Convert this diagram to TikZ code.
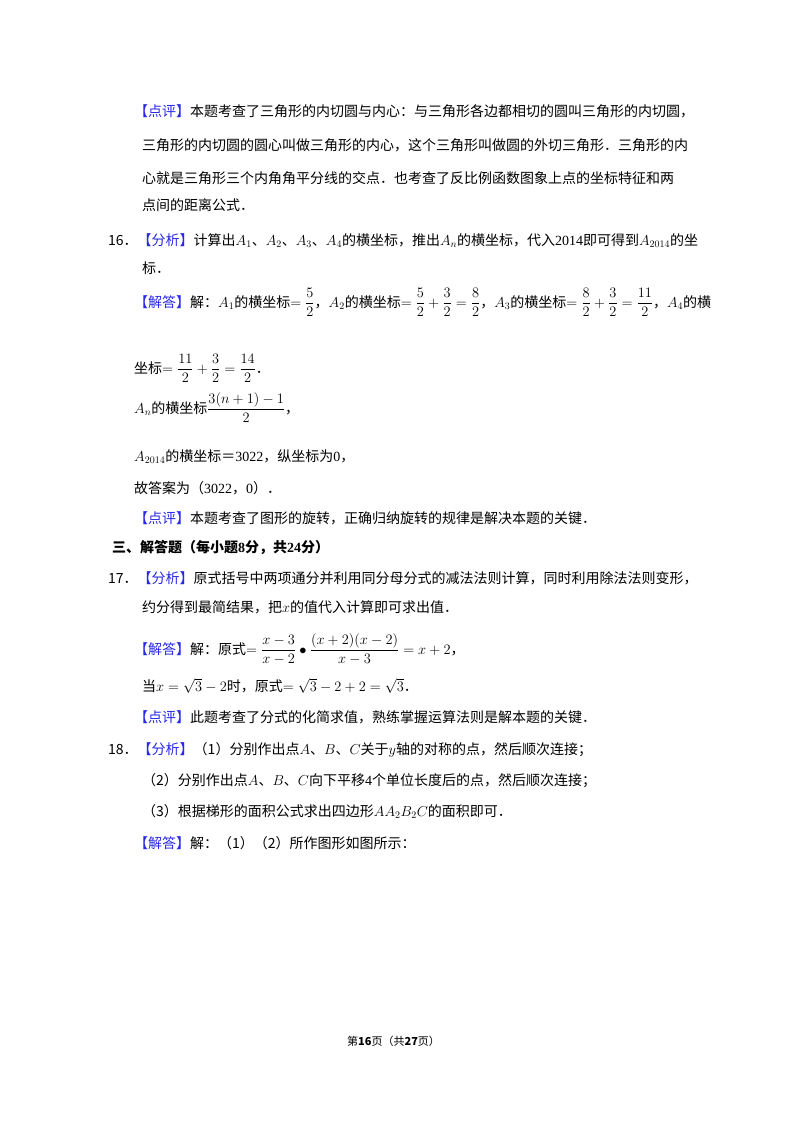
\documentclass[tikz,border=0pt]{standalone}
\usepackage{amsmath}
\usepackage{fontspec}
\setmainfont{Noto Sans CJK SC}
\newfontfamily\serifnum{Liberation Serif}
\definecolor{bl}{RGB}{40,40,230}
\newcommand{\tg}[1]{\textcolor{bl}{【#1】}}
\begin{document}
\begin{tikzpicture}[x=1pt,y=-1pt,every node/.style={anchor=base west,inner sep=0pt,font=\fontsize{14}{16}\selectfont}]
\useasboundingbox (0,0) rectangle (800,1132);
\fill[white] (0,0) rectangle (800,1132);
\node (l1) at (134,116) {\tg{点评}本题考查了三角形的内切圆与内心：与三角形各边都相切的圆叫三角形的内切圆，};
\node (l2) at (142,150) {三角形的内切圆的圆心叫做三角形的内心，这个三角形叫做圆的外切三角形．三角形的内};
\node (l3) at (142,183) {心就是三角形三个内角角平分线的交点．也考查了反比例函数图象上点的坐标特征和两};
\node (l4) at (142,210) {点间的距离公式．};
\node (l5) at (108,245) {16．\tg{分析}计算出$A_1$、$A_2$、$A_3$、$A_4$的横坐标，推出$A_n$的横坐标，代入{\serifnum 2014}即可得到$A_{2014}$的坐};
\node (l6) at (142,273) {标．};
\node (l7) at (134,307) {\tg{解答}解：$A_1$的横坐标$=\dfrac{5}{2}$，$A_2$的横坐标$=\dfrac{5}{2}+\dfrac{3}{2}=\dfrac{8}{2}$，$A_3$的横坐标$=\dfrac{8}{2}+\dfrac{3}{2}=\dfrac{11}{2}$，$A_4$的横};
\node (l8) at (134,373) {坐标$=\dfrac{11}{2}+\dfrac{3}{2}=\dfrac{14}{2}$．};
\node (l9) at (134,413) {$A_n$的横坐标$\dfrac{3(n+1)-1}{2}$，};
\node (l10) at (134,461) {$A_{2014}$的横坐标＝{\serifnum 3022}，纵坐标为{\serifnum 0}，};
\node (l11) at (134,493) {故答案为（{\serifnum 3022}，{\serifnum 0}）．};
\node (l12) at (134,523) {\tg{点评}本题考查了图形的旋转，正确归纳旋转的规律是解决本题的关键．};
\node (l13) at (112,552) {\textbf{三、解答题（每小题{\serifnum 8}分，共{\serifnum 24}分）}};
\node (l14) at (108,583) {17．\tg{分析}原式括号中两项通分并利用同分母分式的减法法则计算，同时利用除法法则变形，};
\node (l15) at (142,612) {约分得到最简结果，把$x$的值代入计算即可求出值．};
\node (l16) at (134,654) {\tg{解答}解：原式$=\dfrac{x-3}{x-2}\bullet\dfrac{(x+2)(x-2)}{x-3}=x+2$，};
\node (l17) at (142,691) {当$x=\sqrt{3}-2$时，原式$=\sqrt{3}-2+2=\sqrt{3}$．};
\node (l18) at (134,722) {\tg{点评}此题考查了分式的化简求值，熟练掌握运算法则是解本题的关键．};
\node (l19) at (108,754) {18．\tg{分析}（1）分别作出点$A$、$B$、$C$关于$y$轴的对称的点，然后顺次连接；};
\node (l20) at (142,785) {（2）分别作出点$A$、$B$、$C$向下平移{\serifnum 4}个单位长度后的点，然后顺次连接；};
\node (l21) at (142,816) {（3）根据梯形的面积公式求出四边形$AA_2B_2C$的面积即可．};
\node (l22) at (134,848) {\tg{解答}解：（1）（2）所作图形如图所示：};
\node[font=\fontsize{11}{13}\selectfont] (ft) at (347,1045) {第\textbf{16}页（共\textbf{27}页）};
\end{tikzpicture}
\end{document}
